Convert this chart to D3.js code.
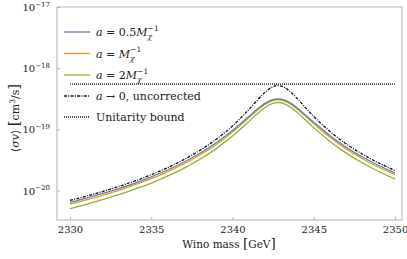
<!DOCTYPE html>
<html>
<head>
<meta charset="utf-8">
<script src="https://cdn.jsdelivr.net/npm/d3@7"></script>
<style>
  body { margin: 0; background: #fff; }
</style>
</head>
<body>
<svg id="chart" width="407" height="259"></svg>
<script>
var masses = [2330, 2331, 2332, 2333, 2334, 2335, 2336, 2337, 2338, 2339, 2340, 2341,
              2341.5, 2342, 2342.4, 2342.8, 2343.2, 2343.6, 2344, 2344.5,
              2345, 2346, 2347, 2348, 2349, 2350];

// <sigma v> in cm^3/s
var sigHalf = [6.44e-21, 7.55e-21, 8.98e-21, 1.08e-20, 1.33e-20, 1.68e-20, 2.17e-20, 2.91e-20, 4.07e-20, 6.04e-20, 9.58e-20, 1.62e-19,
               2.11e-19, 2.66e-19, 3.02e-19, 3.16e-19, 3.02e-19, 2.66e-19, 2.22e-19, 1.71e-19,
               1.31e-19, 7.89e-20, 5.12e-20, 3.54e-20, 2.57e-20, 1.95e-20];
var sigOne  = [6.02e-21, 7.06e-21, 8.39e-21, 1.01e-20, 1.25e-20, 1.57e-20, 2.03e-20, 2.72e-20, 3.82e-20, 5.67e-20, 9.04e-20, 1.54e-19,
               2.02e-19, 2.55e-19, 2.91e-19, 3.05e-19, 2.91e-19, 2.55e-19, 2.12e-19, 1.63e-19,
               1.24e-19, 7.43e-20, 4.81e-20, 3.32e-20, 2.41e-20, 1.83e-20];
var sigTwo  = [5.09e-21, 5.97e-21, 7.10e-21, 8.57e-21, 1.06e-20, 1.33e-20, 1.72e-20, 2.31e-20, 3.25e-20, 4.85e-20, 7.77e-20, 1.34e-19,
               1.78e-19, 2.28e-19, 2.61e-19, 2.75e-19, 2.61e-19, 2.28e-19, 1.88e-19, 1.42e-19,
               1.07e-19, 6.37e-20, 4.10e-20, 2.82e-20, 2.05e-20, 1.55e-20];
var sigBare = [6.92e-21, 8.12e-21, 9.67e-21, 1.17e-20, 1.44e-20, 1.82e-20, 2.37e-20, 3.21e-20, 4.55e-20, 6.90e-20, 1.14e-19, 2.11e-19,
               2.95e-19, 4.03e-19, 4.85e-19, 5.20e-19, 4.85e-19, 4.03e-19, 3.15e-19, 2.25e-19,
               1.63e-19, 9.23e-20, 5.79e-20, 3.93e-20, 2.83e-20, 2.13e-20];

// unitarity bound, flat over the mass range
var unitMasses = [2330, 2350];
var unitBound = [5.5e-19, 5.5e-19];

var xTicks = [2330, 2335, 2340, 2345, 2350];
var yTicks = [1e-20, 1e-19, 1e-18, 1e-17];
var yTickExp = ['\u221220', '\u221219', '\u221218', '\u221217'];

var serif = "'DejaVu Serif', serif";

var svg = d3.select('#chart').style('font-family', serif);

var x = d3.scaleLinear().domain([2329.2, 2350.43]).range([57, 402]);
var y = d3.scaleLog().domain([3.31e-21, 1e-17]).range([220, 7]);

var frameCol = '#b4b4b4';

// axes (ticks inward)
var xAxis = svg.append('g')
  .attr('transform', 'translate(0,220)')
  .call(d3.axisBottom(x).tickValues(xTicks).tickSize(-3).tickPadding(6).tickFormat(d3.format('d')));
var yAxis = svg.append('g')
  .attr('transform', 'translate(57,0)')
  .call(d3.axisLeft(y).tickValues(yTicks).tickSize(-3).tickPadding(7).tickFormat(''));

[xAxis, yAxis].forEach(function(g) {
  g.attr('font-family', null).attr('font-size', null);
  g.select('.domain').remove();
  g.selectAll('.tick line').attr('stroke', frameCol);
  g.selectAll('text').style('font-family', serif).style('font-size', '10px').attr('fill', '#222');
});

// y tick labels as 10^n
yAxis.selectAll('.tick text').each(function(d, i) {
  var t = d3.select(this);
  t.attr('dy', '0.35em');
  t.append('tspan').text('10');
  t.append('tspan').attr('dy', '-4.5').style('font-size', '7px').text(yTickExp[i]);
});

// frame
svg.append('rect')
  .attr('x', 57).attr('y', 7).attr('width', 345).attr('height', 213)
  .attr('fill', 'none').attr('stroke', frameCol).attr('stroke-width', 1);

// curves
var line = d3.line()
  .x(function(d) { return x(d[0]); })
  .y(function(d) { return y(d[1]); })
  .curve(d3.curveMonotoneX);

var series = [
  { vals: sigTwo,  color: '#8fb032', dash: null },
  { vals: sigOne,  color: '#e19c24', dash: null },
  { vals: sigHalf, color: '#5e81b5', dash: null },
  { vals: sigBare, color: '#111',    dash: '3,1.3,1,1.3' }
];

series.forEach(function(s) {
  svg.append('path')
    .datum(d3.zip(masses, s.vals))
    .attr('d', line)
    .attr('fill', 'none')
    .attr('stroke', s.color)
    .attr('stroke-width', 1.3)
    .attr('stroke-dasharray', s.dash);
});

svg.append('path')
  .datum(d3.zip(unitMasses, unitBound))
  .attr('d', line)
  .attr('fill', 'none')
  .attr('stroke', '#111')
  .attr('stroke-width', 1.2)
  .attr('stroke-dasharray', '1,1');

// legend
var legY = [32, 53.5, 75, 96, 117];
var legStyle = [
  { color: '#5e81b5', dash: null },
  { color: '#e19c24', dash: null },
  { color: '#8fb032', dash: null },
  { color: '#111', dash: '3,1.3,1,1.3' },
  { color: '#111', dash: '1,1' }
];
var legCoef = ['0.5', '', '2'];

var leg = svg.append('g');
legStyle.forEach(function(s, i) {
  leg.append('line')
    .attr('x1', 64).attr('x2', 90).attr('y1', legY[i]).attr('y2', legY[i])
    .attr('stroke', s.color).attr('stroke-width', 1.3)
    .attr('stroke-dasharray', s.dash);
});

function legText(i) {
  return leg.append('text').attr('x', 96).attr('y', legY[i] + 4)
    .style('font-family', serif).style('font-size', '11px').attr('fill', '#222');
}

legCoef.forEach(function(c, i) {
  var t = legText(i);
  t.append('tspan').style('font-style', 'italic').text('a');
  t.append('tspan').text(' = ' + c);
  t.append('tspan').style('font-style', 'italic').text('M');
  t.append('tspan').attr('dy', 3).style('font-size', '7.5px').style('font-style', 'italic').text('\u03c7');
  t.append('tspan').attr('dx', -4.5).attr('dy', -8.5).style('font-size', '7.5px').text('\u22121');
});

var t4 = legText(3);
t4.append('tspan').style('font-style', 'italic').text('a');
t4.append('tspan').text(' \u2192 0, uncorrected');

legText(4).text('Unitarity bound');

// axis titles
var xt = svg.append('text')
  .attr('x', 229).attr('y', 248)
  .attr('text-anchor', 'middle')
  .style('font-family', serif).style('font-size', '10.5px').attr('fill', '#222');
xt.append('tspan').text('Wino mass ');
xt.append('tspan').style('font-size', '13.5px').text('[');
xt.append('tspan').text('GeV');
xt.append('tspan').style('font-size', '13.5px').text(']');

var yt = svg.append('text')
  .attr('transform', 'translate(19,118) rotate(-90)')
  .attr('text-anchor', 'middle')
  .style('font-family', serif).style('font-size', '11px').attr('fill', '#222');
yt.append('tspan').text('\u27e8');
yt.append('tspan').style('font-style', 'italic').text('\u03c3v');
yt.append('tspan').text('\u27e9 ');
yt.append('tspan').style('font-size', '15px').text('[');
yt.append('tspan').text('cm');
yt.append('tspan').attr('dy', -4.5).style('font-size', '7.5px').text('3');
yt.append('tspan').attr('dy', 4.5).text('/s');
yt.append('tspan').style('font-size', '15px').text(']');
</script>
</body>
</html>
